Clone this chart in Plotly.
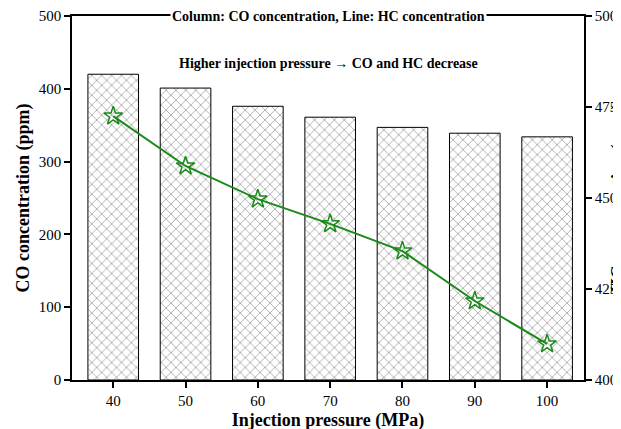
import plotly.graph_objects as go

pressure = [40, 50, 60, 70, 80, 90, 100]
co_ppm = [420, 401, 376, 361, 347, 339, 334]
hc_ppm = [472.5, 458.8, 449.7, 442.9, 435.4, 421.7, 409.9]

font = "Liberation Serif"

fig = go.Figure()
fig.add_trace(go.Bar(
    x=pressure, y=co_ppm, width=7,
    marker=dict(color="white", line=dict(color="black", width=1),
                pattern=dict(shape="x", fgcolor="#333", size=7, solidity=0.2)),
    showlegend=False,
))
fig.add_trace(go.Scatter(
    x=pressure, y=hc_ppm, yaxis="y2", mode="lines+markers",
    line=dict(color="#1a8a1a", width=2),
    marker=dict(symbol="star-open", size=14, color="#1a8a1a", line=dict(width=1.5)),
    showlegend=False,
))

axis_common = dict(showline=True, linecolor="black", linewidth=1.5, ticks="outside",
                   tickcolor="black", tickwidth=1.5, ticklen=6, showgrid=False,
                   zeroline=False, automargin=False,
                   tickfont=dict(family=font, size=15, color="black"))

fig.update_layout(
    width=621, height=429, plot_bgcolor="white", paper_bgcolor="white",
    margin=dict(l=64, r=45, t=8, b=57, autoexpand=False),
    font=dict(family=font, color="black"),
    xaxis=dict(range=[34.3, 105.1], tickvals=pressure, mirror=True,
               title=dict(text="<b>Injection pressure (MPa)</b>", font=dict(size=18), standoff=6),
               **axis_common),
    yaxis=dict(range=[0, 500], dtick=100,
               title=dict(text="<b>CO concentration (ppm)</b>", font=dict(size=18), standoff=4),
               **axis_common),
    yaxis2=dict(range=[400, 500], dtick=25, overlaying="y", side="right",
                title=dict(text="<b>HC concentration (ppm)</b>", font=dict(size=18), standoff=4),
                **axis_common),
    annotations=[
        dict(text="<b>Column: CO concentration, Line: HC concentration</b>", x=0.5, y=1.0,
             xref="paper", yref="paper", showarrow=False, bgcolor="white",
             font=dict(size=14), yanchor="middle"),
        dict(text="<b>Higher injection pressure \u2192 CO and HC decrease</b>", x=0.5, y=0.895,
             xref="paper", yref="paper", showarrow=False, font=dict(size=14)),
    ],
)

fig.write_html("out.html")
